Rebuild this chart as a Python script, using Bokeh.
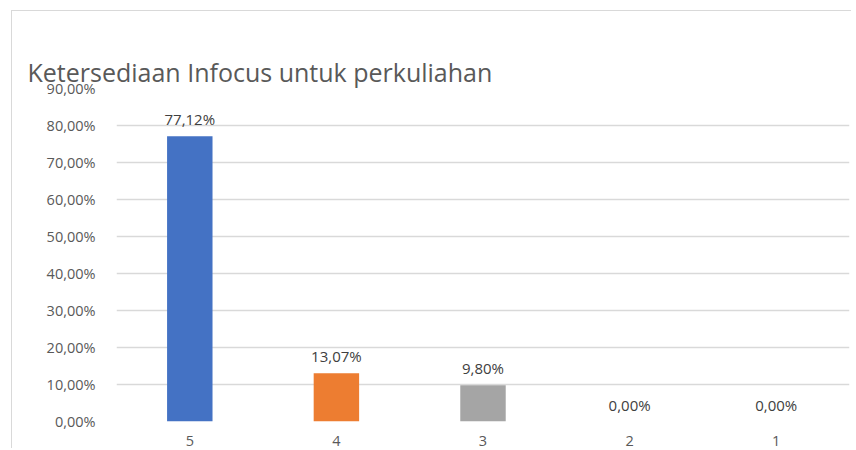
from bokeh.plotting import figure
from bokeh.models import ColumnDataSource, LabelSet, FixedTicker, Title
from bokeh.core.properties import value
from bokeh.embed import file_html
from bokeh.resources import INLINE

title_text = "Ketersediaan Infocus untuk perkuliahan"
categories = ["5", "4", "3", "2", "1"]
values = [77.12, 13.07, 9.80, 0.00, 0.00]
colors = ["#4472C4", "#ED7D31", "#A5A5A5", "#FFC000", "#5B9BD5"]
y_ticks = [0, 10, 20, 30, 40, 50, 60, 70, 80, 90]

def pct(v):
    return f"{v:.2f}".replace(".", ",") + "%"

labels = [pct(v) for v in values]
src = ColumnDataSource(dict(cat=categories, val=values, col=colors, lab=labels))

p = figure(x_range=categories, y_range=(0, 90), width=840, height=438,
           output_backend="svg", toolbar_location=None, title=title_text,
           min_border_left=104, min_border_right=3, min_border_top=77, min_border_bottom=28,
           styles={"border-left": "1px solid #d9d9d9", "border-top": "1px solid #d9d9d9",
                   "margin-left": "11px", "margin-top": "10px"})

p.title.text_font = "Open Sans"
p.title.text_font_size = "25px"
p.title.text_font_style = "normal"
p.title.text_color = "#595959"
p.title.align = "left"
p.title.offset = -89
p.title.standoff = 0

# invisible spacer title, placed between the title and the plot frame
p.add_layout(Title(text=".", text_font_size="10px", text_alpha=0, standoff=19), "above")

p.vbar(x="cat", top="val", width=0.31, fill_color="col", line_color=None, source=src)

p.add_layout(LabelSet(x="cat", y="val", text="lab", source=src, text_align="center",
                      text_baseline="bottom", y_offset=7, text_font=value("Open Sans"),
                      text_font_size="15px", text_color="#404040"))

p.outline_line_color = None
p.background_fill_color = "white"
p.border_fill_color = "white"

p.yaxis.ticker = FixedTicker(ticks=y_ticks)
p.yaxis.major_label_overrides = {t: pct(t) for t in y_ticks}
p.yaxis.axis_line_color = None
p.yaxis.major_tick_line_color = None
p.yaxis.minor_tick_line_color = None
p.yaxis.major_label_standoff = 15
p.yaxis.major_label_text_font = "Open Sans"
p.yaxis.major_label_text_font_size = "14.5px"
p.yaxis.major_label_text_color = "#595959"

p.xaxis.axis_line_color = None
p.xaxis.major_tick_line_color = None
p.xaxis.major_label_standoff = 8
p.xaxis.major_label_text_font = "Open Sans"
p.xaxis.major_label_text_font_size = "14.5px"
p.xaxis.major_label_text_color = "#595959"

p.xgrid.grid_line_color = None
p.ygrid.grid_line_color = "#D9D9D9"
p.ygrid.grid_line_width = 1.5
p.x_range.range_padding = 0

open("out.html", "w").write(file_html(p, INLINE))
